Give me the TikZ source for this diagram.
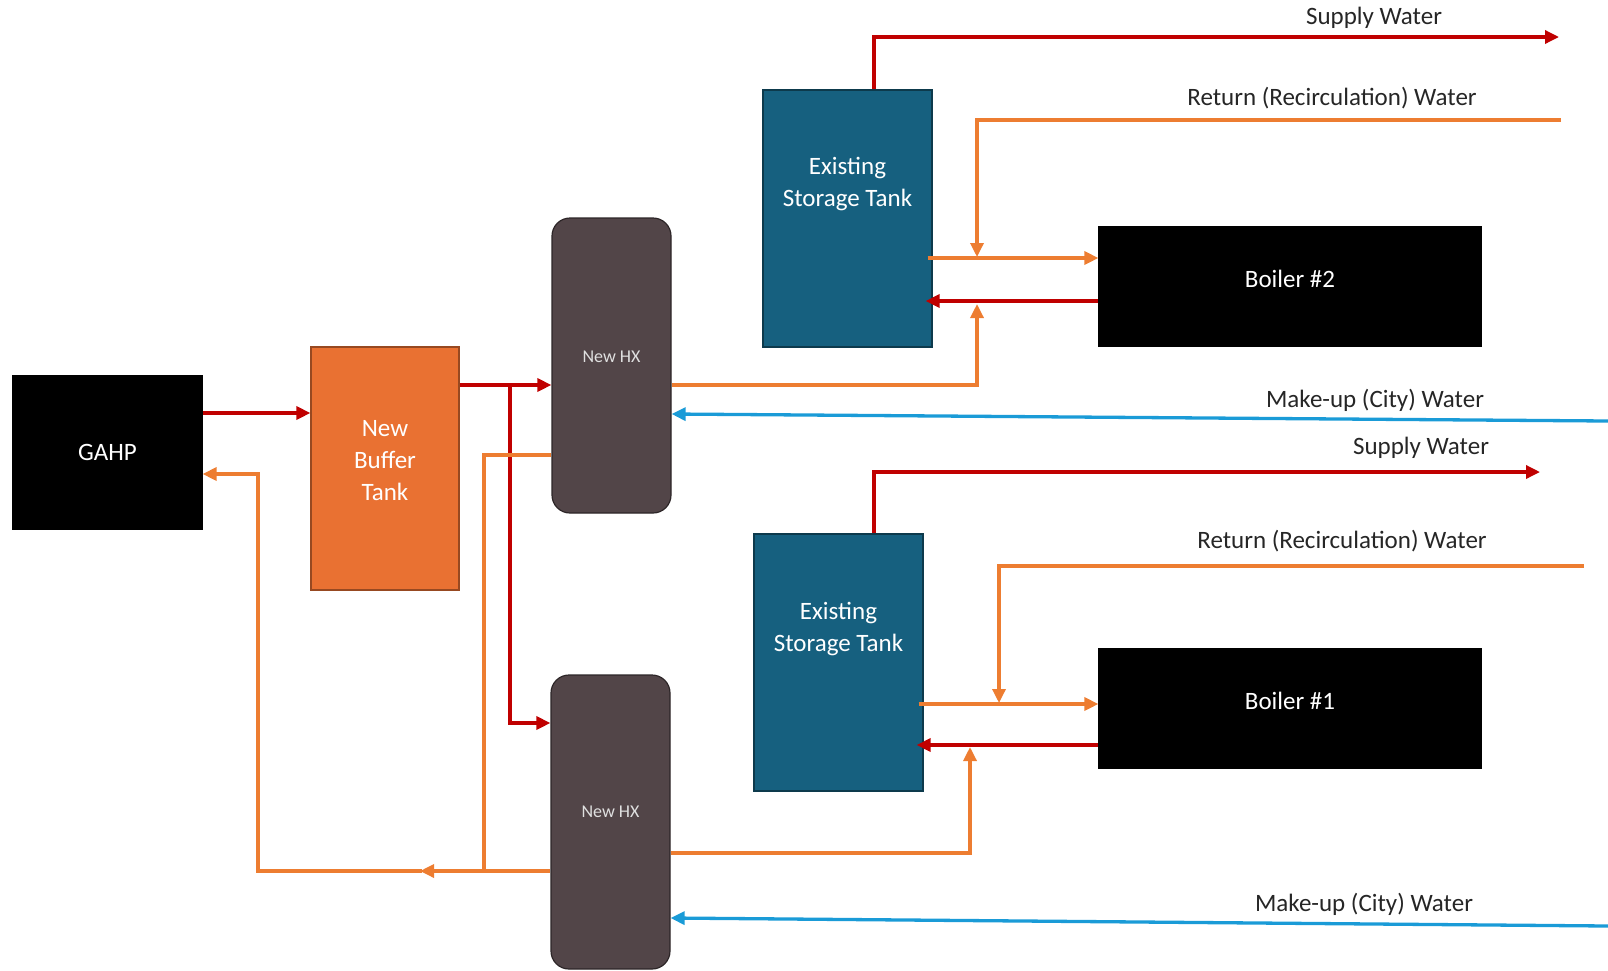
\documentclass[tikz,border=0pt]{standalone}
\usepackage{fontspec}
\setmainfont{Carlito}
\usetikzlibrary{arrows.meta, positioning, calc}

\definecolor{pipered}{HTML}{C00000}
\definecolor{pipeorange}{HTML}{ED7D31}
\definecolor{pipeblue}{HTML}{1A9BD7}
\definecolor{tankblue}{HTML}{16607F}
\definecolor{hxgrey}{HTML}{524548}
\definecolor{bufferorange}{HTML}{E97132}
\definecolor{labelgrey}{HTML}{262626}

\tikzset{
  unit/.style={inner sep=0pt, align=center, text=white, line width=1.2pt},
  blackbox/.style={unit, draw=black, fill=black},
  tankbox/.style={unit, draw=tankblue!60!black, fill=tankblue},
  bufbox/.style={unit, draw=bufferorange!65!black, fill=bufferorange},
  hxbox/.style={unit, draw=hxgrey!55!black, fill=hxgrey, rounded corners=18pt},
  boxtext/.style={align=center, text=white, font=\fontsize{25}{32}\selectfont},
  hxtext/.style={text=white!88!black, font=\fontsize{18}{20}\selectfont},
  flowlabel/.style={text=labelgrey, font=\fontsize{25}{28}\selectfont},
  pipe/.style={line width=3.3pt, -{Triangle[length=14pt,width=13pt]}},
  line/.style={line width=3.3pt}
}

\begin{document}
\begin{tikzpicture}[x=1pt, y=-1pt]
\useasboundingbox (0,0) rectangle (1608,970);

% equipment
\node[blackbox, minimum width=189pt, minimum height=153pt] (gahp) at (107.5,452.5) {};
\node[boxtext] at (gahp.center) {GAHP};
\node[bufbox, minimum width=148pt, minimum height=243pt] (buf) at (385,468.5) {};
\node[boxtext] at ([yshift=8pt]buf.center) {New\\Buffer\\Tank};
\node[hxbox, minimum width=119pt, minimum height=295pt] (hxA) at (611.5,365.5) {};
\node[hxtext] at ([yshift=9pt]hxA.center) {New HX};
\node[hxbox, minimum width=119pt, minimum height=294pt] (hxB) at (610.5,822) {};
\node[hxtext] at ([yshift=10pt]hxB.center) {New HX};
\node[tankbox, minimum width=169pt, minimum height=257pt] (tankA) at (847.5,218.5) {};
\node[boxtext] at ([yshift=35pt]tankA.center) {Existing\\Storage Tank};
\node[tankbox, minimum width=169pt, minimum height=257pt] (tankB) at (838.5,662.5) {};
\node[boxtext] at ([yshift=34pt]tankB.center) {Existing\\Storage Tank};
\node[blackbox, minimum width=382pt, minimum height=119pt] (boilerB) at (1290,286.5) {};
\node[boxtext] at ([yshift=8pt]boilerB.center) {Boiler \#2};
\node[blackbox, minimum width=382pt, minimum height=119pt] (boilerA) at (1290,708.5) {};
\node[boxtext] at ([yshift=8pt]boilerA.center) {Boiler \#1};

% free ends of the plant lines
\coordinate (tee) at (510,385);
\coordinate (retjoin) at (484,871);
\coordinate (retarrow) at (420,871);
\coordinate (supA) at (1559,37);
\coordinate (recA) at (1561,120);
\coordinate (cityA) at (1608,421);
\coordinate (supB) at (1540,472);
\coordinate (recB) at (1584,566);
\coordinate (cityB) at (1608,926);

% heat pump loop
\draw[pipe, pipered] (gahp.east |- 0,413) -- (buf.west |- 0,413);
\draw[pipe, pipered] (buf.east |- tee) -- (hxA.west |- tee);
\draw[pipe, pipered] (tee) |- (hxB.west |- 0,723);
\draw[line, pipeorange] (hxA.west |- 0,455) -| (retjoin);
\draw[pipe, pipeorange] (hxB.west |- retjoin) -- (retarrow);
\draw[pipe, pipeorange] ([xshift=2pt]retarrow) -| (258,474) -- (gahp.east |- 0,474);

% upper plant (boiler 2)
\draw[pipe, pipeorange] (hxA.east |- tee) -| (977,304);
\draw[pipe, pipeblue] (cityA) -- (hxA.east |- 0,414);
\draw[pipe, pipered] (tankA.north -| 874,0) |- (supA);
\draw[pipe, pipeorange] (recA) -| (977,257);
\draw[pipe, pipeorange] ([xshift=-5pt]tankA.east |- 0,258) -- (boilerB.west |- 0,258);
\draw[pipe, pipered] (boilerB.west |- 0,301) -- ([xshift=-7pt]tankA.east |- 0,301);

% lower plant (boiler 1)
\draw[pipe, pipeorange] (hxB.east |- 0,853) -| (970,747);
\draw[pipe, pipeblue] (cityB) -- (hxB.east |- 0,918);
\draw[pipe, pipered] (tankB.north -| 874,0) |- (supB);
\draw[pipe, pipeorange] (recB) -| (999,703);
\draw[pipe, pipeorange] ([xshift=-5pt]tankB.east |- 0,704) -- (boilerA.west |- 0,704);
\draw[pipe, pipered] (boilerA.west |- 0,745) -- ([xshift=-7pt]tankB.east |- 0,745);

% flow labels
\node[flowlabel] (supAlbl) at (1374,18) {Supply Water};
\node[flowlabel] (recAlbl) at (1332,98) {Return (Recirculation) Water};
\node[flowlabel] (cityAlbl) at (1375,400) {Make-up (City) Water};
\node[flowlabel] (supBlbl) at (1421,448) {Supply Water};
\node[flowlabel] (recBlbl) at (1342,541) {Return (Recirculation) Water};
\node[flowlabel] (cityBlbl) at (1364,904) {Make-up (City) Water};
\end{tikzpicture}
\end{document}
